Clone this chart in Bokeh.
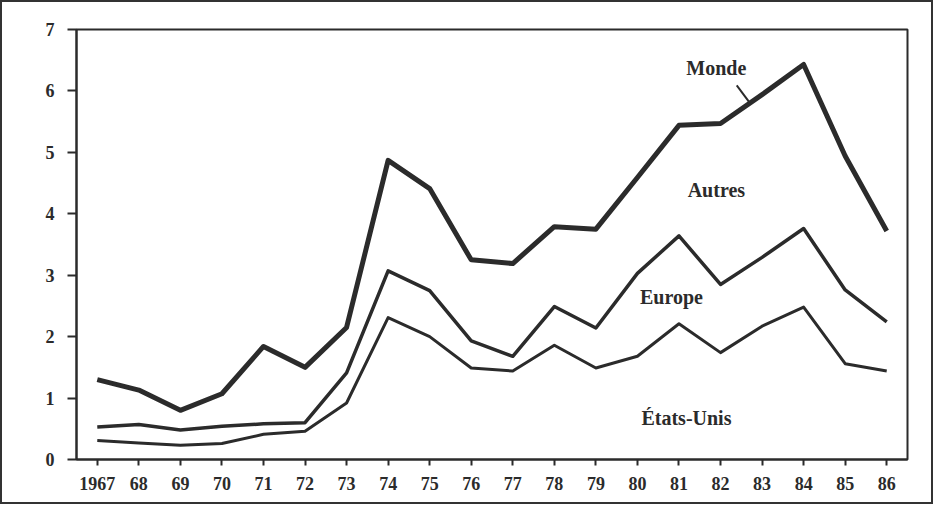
from bokeh.plotting import figure
from bokeh.models import FixedTicker, Range1d
from bokeh.embed import file_html
from bokeh.resources import INLINE
from bokeh.core.properties import value

years = list(range(1967, 1987))
year_labels = ["1967", "68", "69", "70", "71", "72", "73", "74", "75", "76",
               "77", "78", "79", "80", "81", "82", "83", "84", "85", "86"]

monde = [1.30, 1.13, 0.80, 1.07, 1.84, 1.50, 2.15, 4.87, 4.41, 3.25,
         3.19, 3.79, 3.75, 4.59, 5.44, 5.47, 5.94, 6.43, 4.94, 3.72]
europe_cum = [0.53, 0.57, 0.48, 0.54, 0.58, 0.60, 1.41, 3.07, 2.75, 1.93,
              1.68, 2.49, 2.14, 3.03, 3.64, 2.85, 3.29, 3.76, 2.76, 2.24]
etats_unis = [0.31, 0.27, 0.23, 0.26, 0.41, 0.46, 0.92, 2.31, 2.00, 1.49,
              1.44, 1.86, 1.49, 1.68, 2.21, 1.74, 2.17, 2.48, 1.56, 1.44]

y_ticks = [0, 1, 2, 3, 4, 5, 6, 7]

area_labels = ["Monde", "Autres", "Europe", "États-Unis"]
label_x = [1981.9, 1981.9, 1980.82, 1981.18]
label_y = [6.37, 4.38, 2.64, 0.68]

ink = "#2b2b2b"
font = "Liberation Serif"

p = figure(width=933, height=504, output_backend="svg", toolbar_location=None,
           x_range=Range1d(1966.5, 1986.5), y_range=Range1d(0, 7),
           min_border_left=74, min_border_right=28, min_border_top=27,
           min_border_bottom=47)
p.styles = {"border": "2px solid #333"}
p.grid.visible = False
p.background_fill_color = "white"
p.border_fill_color = "white"
p.outline_line_color = ink
p.outline_line_width = 2

p.line(years, monde, line_color=ink, line_width=5, line_join="round")
p.line(years, europe_cum, line_color=ink, line_width=3.5, line_join="round")
p.line(years, etats_unis, line_color=ink, line_width=3, line_join="round")

p.text(x=label_x, y=label_y, text=area_labels, text_align="center",
       text_baseline="middle", text_font=value(font), text_font_size="20px",
       text_color=ink, text_font_style="bold")
p.segment(x0=[1982.39], y0=[6.09], x1=[1982.70], y1=[5.81],
          line_color=ink, line_width=2)

p.xaxis.ticker = FixedTicker(ticks=years)
p.xaxis.major_label_overrides = {y: l for y, l in zip(years, year_labels)}
p.yaxis.ticker = FixedTicker(ticks=y_ticks)
for ax in (p.xaxis, p.yaxis):
    ax.axis_line_color = ink
    ax.axis_line_width = 2
    ax.major_tick_line_color = ink
    ax.major_tick_line_width = 2
    ax.minor_tick_line_color = None
    ax.major_tick_in = 0
    ax.major_label_text_font = font
    ax.major_label_text_font_size = "18px"
    ax.major_label_text_font_style = "bold"
    ax.major_label_text_color = ink
p.xaxis.major_tick_out = 6
p.xaxis.major_label_standoff = 11
p.yaxis.major_tick_out = 9
p.yaxis.major_label_standoff = 13

open("out.html", "w").write(file_html(p, INLINE))
